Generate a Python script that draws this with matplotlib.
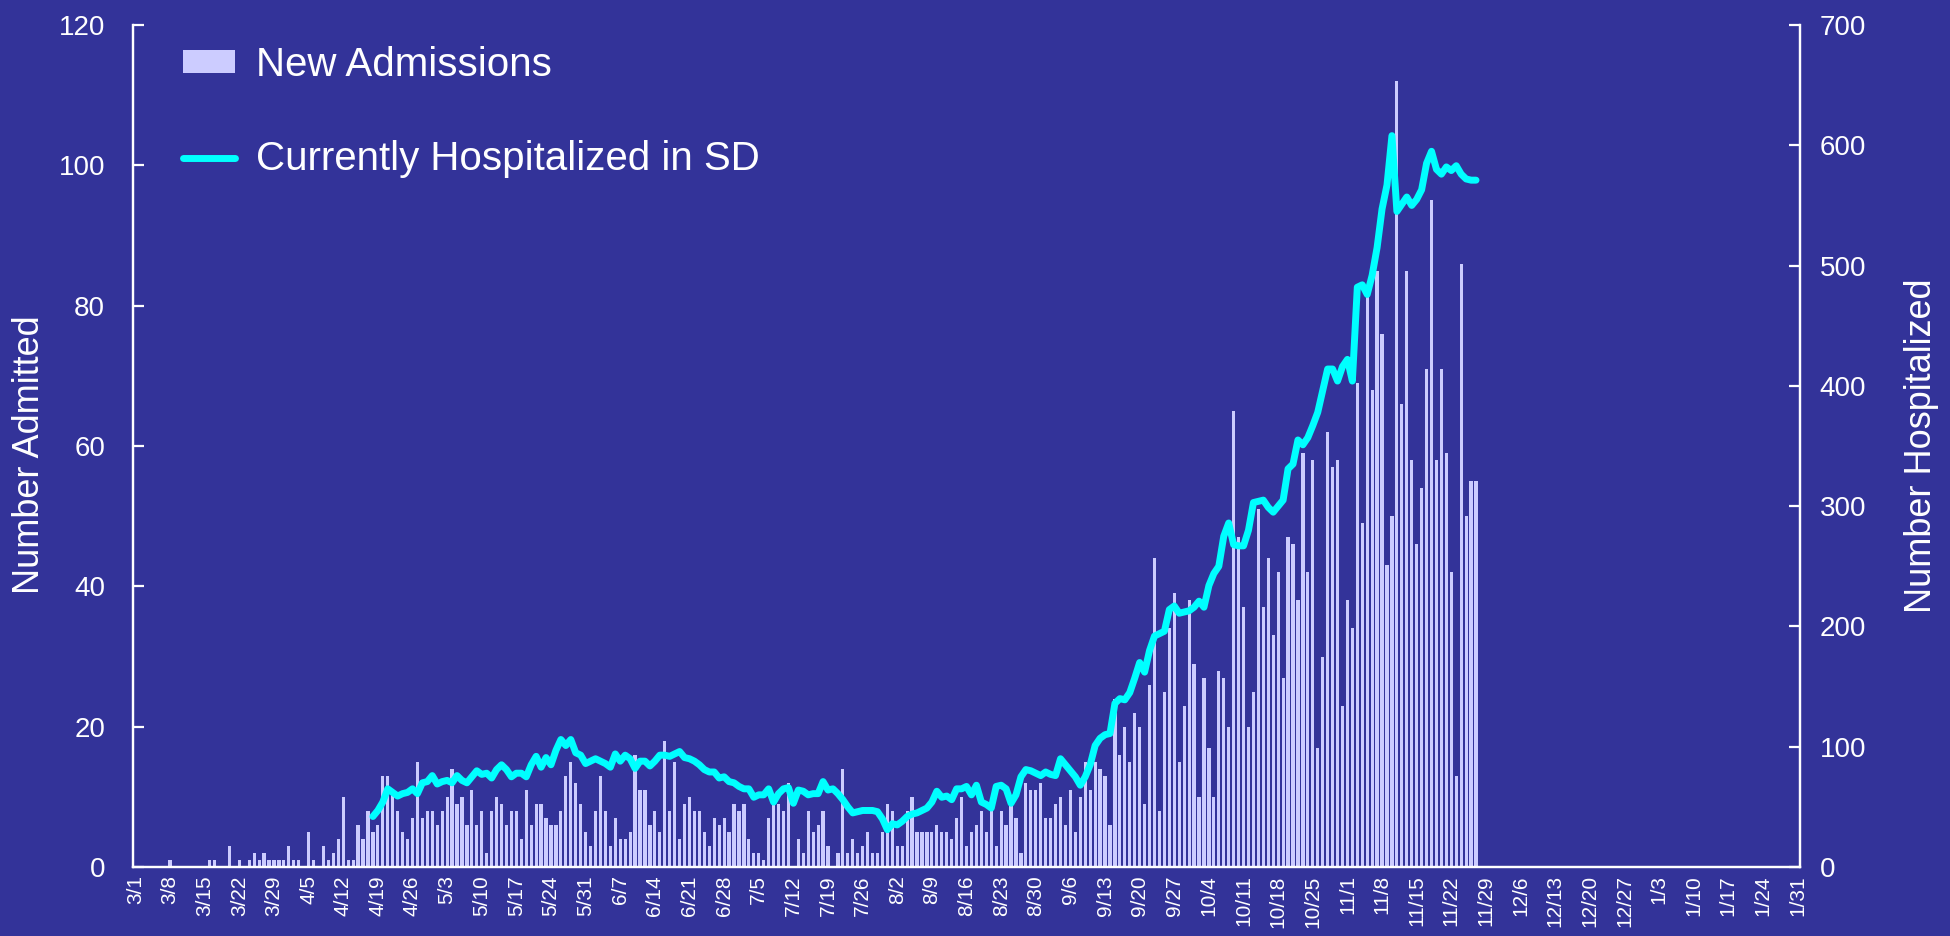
import matplotlib
matplotlib.use("Agg")
import matplotlib.pyplot as plt
from matplotlib.patches import Patch
from matplotlib.lines import Line2D
import numpy as np

plt.rcParams['font.family'] = ['Liberation Sans', 'DejaVu Sans']

# daily new admissions, 3/1 .. 11/27
admissions = [
    0, 0, 0, 0, 0, 0, 0, 1, 0, 0, 0, 0, 0, 0, 0, 1, 1, 0, 0, 3,
    0, 1, 0, 1, 2, 1, 2, 1, 1, 1, 1, 3, 1, 1, 0, 5, 1, 0, 3, 1,
    2, 4, 10, 1, 1, 6, 4, 8, 5, 6, 13, 13, 11, 8, 5, 4, 7, 15, 7, 8,
    8, 6, 8, 10, 14, 9, 10, 6, 11, 6, 8, 2, 8, 10, 9, 6, 8, 8, 4, 11,
    6, 9, 9, 7, 6, 6, 8, 13, 15, 12, 9, 5, 3, 8, 13, 8, 3, 7, 4, 4,
    5, 16, 11, 11, 6, 8, 5, 18, 8, 15, 4, 9, 10, 8, 8, 5, 3, 7, 6, 7,
    5, 9, 8, 9, 4, 2, 2, 1, 7, 9, 9, 8, 12, 0, 4, 2, 8, 5, 6, 8,
    3, 0, 2, 14, 2, 4, 2, 3, 5, 2, 2, 5, 9, 8, 3, 3, 8, 10, 5, 5,
    5, 5, 6, 5, 5, 4, 7, 10, 3, 5, 6, 8, 5, 8, 3, 8, 6, 9, 7, 2,
    12, 11, 11, 12, 7, 7, 9, 10, 6, 11, 5, 10, 15, 11, 15, 14, 13, 6, 24, 16,
    20, 15, 22, 20, 9, 26, 44, 8, 25, 34, 39, 15, 23, 38, 29, 10, 27, 17, 10, 28,
    27, 20, 65, 47, 37, 20, 25, 51, 37, 44, 33, 42, 27, 47, 46, 38, 59, 42, 58, 17,
    30, 62, 57, 58, 23, 38, 34, 69, 49, 82, 68, 85, 76, 43, 50, 112, 66, 85, 58, 46,
    54, 71, 95, 58, 71, 59, 42, 13, 86, 50, 55, 55,
]

# currently hospitalized, 4/18 .. 11/27
hosp_start = 48
hospitalized = [
    42, 47, 54, 65, 62, 59, 61, 62, 65, 61, 70, 71, 76, 69, 71, 72, 70, 76, 72, 70,
    75, 80, 77, 78, 74, 81, 85, 81, 75, 78, 78, 75, 85, 92, 83, 91, 85, 97, 106, 101,
    106, 95, 93, 86, 88, 90, 88, 86, 83, 94, 88, 93, 90, 82, 88, 88, 84, 88, 93, 93,
    92, 94, 96, 91, 90, 88, 85, 81, 79, 79, 74, 75, 71, 70, 67, 65, 65, 58, 60, 60,
    65, 54, 61, 65, 66, 53, 64, 63, 60, 61, 61, 71, 64, 65, 61, 56, 50, 45, 46, 47,
    47, 47, 46, 40, 31, 36, 35, 38, 42, 44, 45, 47, 49, 54, 63, 58, 59, 56, 65, 65,
    67, 60, 68, 54, 52, 49, 67, 68, 65, 53, 60, 75, 81, 80, 78, 76, 79, 77, 76, 90,
    85, 80, 75, 68, 75, 85, 101, 107, 110, 111, 136, 140, 139, 145, 157, 170, 162, 180, 192, 194,
    196, 214, 217, 211, 212, 213, 216, 221, 216, 234, 244, 250, 275, 286, 268, 267, 267, 280, 303, 304,
    305, 299, 295, 300, 305, 331, 335, 355, 351, 357, 367, 378, 396, 414, 414, 404, 416, 422, 404, 482,
    484, 476, 492, 515, 547, 567, 608, 545, 551, 557, 550, 555, 563, 585, 595, 580, 576, 582, 579, 583,
    576, 572, 571, 571,
]

n_days = 337  # 3/1 .. 1/31
tick_labels = [
    '3/1', '3/8', '3/15', '3/22', '3/29', '4/5', '4/12', '4/19', '4/26', '5/3',
    '5/10', '5/17', '5/24', '5/31', '6/7', '6/14', '6/21', '6/28', '7/5', '7/12',
    '7/19', '7/26', '8/2', '8/9', '8/16', '8/23', '8/30', '9/6', '9/13', '9/20',
    '9/27', '10/4', '10/11', '10/18', '10/25', '11/1', '11/8', '11/15', '11/22', '11/29',
    '12/6', '12/13', '12/20', '12/27', '1/3', '1/10', '1/17', '1/24', '1/31',
]

bg = '#333399'
bar_color = '#CCCCFF'
line_color = '#00FFFF'

fig = plt.figure(figsize=(19.5, 9.36), dpi=100, facecolor=bg)
ax = fig.add_axes([0.0682, 0.0737, 0.8549, 0.8996])
ax.set_facecolor(bg)
ax2 = ax.twinx()

x_bar = np.arange(len(admissions))
ax.bar(x_bar, admissions, width=0.65, color=bar_color, edgecolor='none', zorder=2)

x_line = np.arange(hosp_start, hosp_start + len(hospitalized))
ax2.plot(x_line, hospitalized, color=line_color, lw=5,
         solid_capstyle='round', solid_joinstyle='round')

ax.set_xlim(-0.5, n_days - 0.5)
ax.set_ylim(0, 120)
ax2.set_ylim(0, 700)
ax.set_yticks(np.arange(0, 121, 20))
ax2.set_yticks(np.arange(0, 701, 100))
ax.set_xticks(np.arange(0, n_days, 7))
ax.set_xticklabels(tick_labels, rotation=90)

for a in (ax, ax2):
    a.spines['top'].set_visible(False)
    for s in ('left', 'right', 'bottom'):
        a.spines[s].set_color('white')
        a.spines[s].set_linewidth(1.6)

ax.tick_params(axis='y', colors='white', direction='in', length=8, width=1.6,
               labelsize=20, pad=20)
ax2.tick_params(axis='y', colors='white', direction='in', length=8, width=1.6,
                labelsize=20, pad=14)
ax.tick_params(axis='x', colors='white', direction='out', length=0, width=1.6,
               labelsize=15, pad=6)

ax.set_ylabel('Number Admitted', color='white', fontsize=26)
ax.yaxis.set_label_coords(-0.0516, 0.49)
ax2.set_ylabel('Number Hospitalized', color='white', fontsize=26, rotation=90)
ax2.yaxis.set_label_coords(1.0624, 0.5)

handles = [Patch(facecolor=bar_color, edgecolor='none'),
           Line2D([0], [0], color=line_color, lw=5, solid_capstyle='round')]
leg = ax2.legend(handles, ['New Admissions', 'Currently Hospitalized in SD'],
                 loc='upper left', bbox_to_anchor=(0.03, 0.975), frameon=False,
                 fontsize=29, labelcolor='white', handlelength=1.3,
                 handleheight=0.5, handletextpad=0.5, labelspacing=1.4,
                 borderpad=0, borderaxespad=0)

fig.savefig('out.png', dpi=100, facecolor=bg)
